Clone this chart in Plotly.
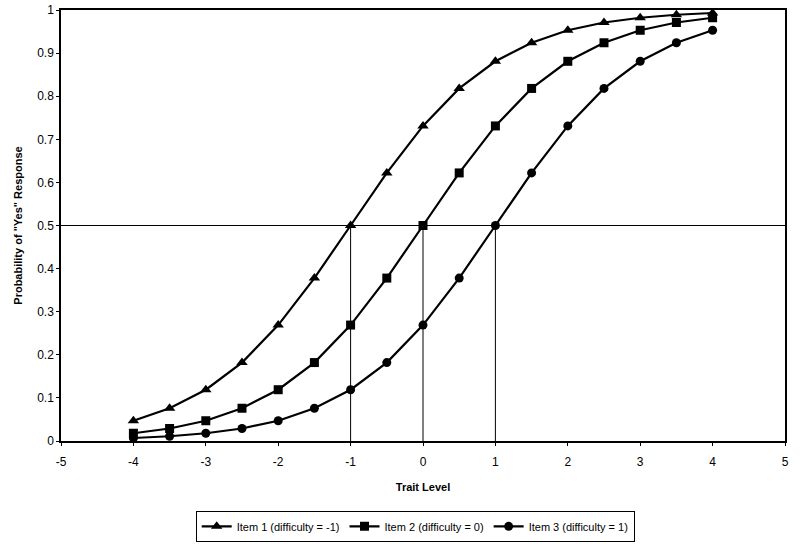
import plotly.graph_objects as go

TRAIT = [-4, -3.5, -3, -2.5, -2, -1.5, -1, -0.5, 0, 0.5, 1, 1.5, 2, 2.5, 3, 3.5, 4]

ITEM1 = [0.047, 0.076, 0.119, 0.182, 0.269, 0.378, 0.500, 0.622, 0.731, 0.818,
         0.881, 0.924, 0.953, 0.971, 0.982, 0.989, 0.993]
ITEM2 = [0.018, 0.029, 0.047, 0.076, 0.119, 0.182, 0.269, 0.378, 0.500, 0.622,
         0.731, 0.818, 0.881, 0.924, 0.953, 0.971, 0.982]
ITEM3 = [0.007, 0.011, 0.018, 0.029, 0.047, 0.076, 0.119, 0.182, 0.269, 0.378,
         0.500, 0.622, 0.731, 0.818, 0.881, 0.924, 0.953]

SERIES = [
    ("Item 1 (difficulty = -1)", ITEM1, "triangle-up", 10),
    ("Item 2 (difficulty = 0)", ITEM2, "square", 9),
    ("Item 3 (difficulty = 1)", ITEM3, "circle", 9),
]

X_TICKS = [-5, -4, -3, -2, -1, 0, 1, 2, 3, 4, 5]
Y_TICKS = [0, 0.1, 0.2, 0.3, 0.4, 0.5, 0.6, 0.7, 0.8, 0.9, 1]

DIFFICULTIES = [-1, 0, 1]
HALF = 0.5

FONT = "Liberation Sans, Arial, sans-serif"

fig = go.Figure()

for name, vals, sym, size in SERIES:
    fig.add_trace(
        go.Scatter(
            x=TRAIT,
            y=vals,
            mode="lines+markers",
            name=name,
            line=dict(color="black", width=2.2),
            marker=dict(symbol=sym, size=size, color="black"),
        )
    )

# reference lines at p = .5 and at each difficulty
fig.add_shape(type="line", x0=-5, x1=5, y0=HALF, y1=HALF,
              line=dict(color="black", width=1), layer="below")
for d in DIFFICULTIES:
    fig.add_shape(type="line", x0=d, x1=d, y0=0, y1=HALF,
                  line=dict(color="black", width=1), layer="below")

axis_common = dict(
    showline=True,
    linecolor="black",
    linewidth=1.5,
    mirror=True,
    showgrid=False,
    zeroline=False,
    automargin=False,
    ticks="outside",
    ticklen=3,
    tickcolor="black",
    ticklabeloverflow="allow",
    tickfont=dict(size=12, color="black", family=FONT),
)

fig.update_xaxes(
    range=[-5, 5],
    tickvals=X_TICKS,
    ticktext=[str(v) for v in X_TICKS],
    ticklabelstandoff=6,
    title=dict(text="<b>Trait Level</b>", font=dict(size=11, color="black", family=FONT), standoff=15),
    **axis_common,
)
fig.update_yaxes(
    range=[0, 1],
    tickvals=Y_TICKS,
    ticktext=[f"{v:g}" for v in Y_TICKS],
    title=dict(text="<b>Probability of \"Yes\" Response</b>", font=dict(size=11, color="black", family=FONT), standoff=12),
    **axis_common,
)

fig.update_layout(
    width=800,
    height=544,
    margin=dict(l=61, r=15, t=10, b=103),
    paper_bgcolor="white",
    plot_bgcolor="white",
    font=dict(family=FONT, color="black"),
    showlegend=True,
    legend=dict(
        orientation="h",
        xref="container",
        yref="container",
        x=0.519,
        xanchor="center",
        y=0.061,
        yanchor="top",
        bordercolor="black",
        borderwidth=1,
        font=dict(size=11, color="black", family=FONT),
        itemwidth=30,
        tracegroupgap=0,
    ),
)

# drop the default 8px body margin so the figure sits at the window origin
fig.write_html(
    "out.html",
    config={"displayModeBar": False},
    post_script="document.body.style.margin='0';",
)
